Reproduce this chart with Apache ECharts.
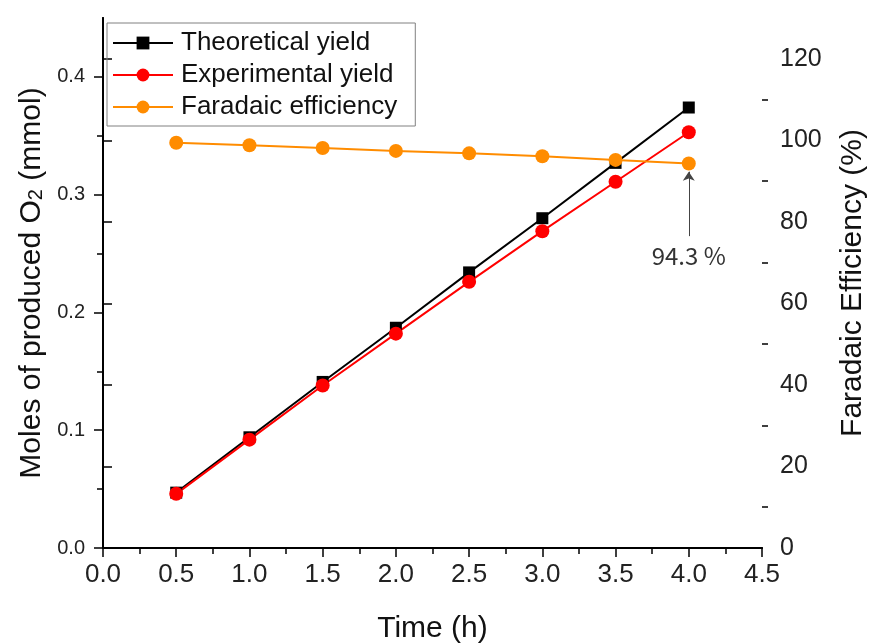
<!DOCTYPE html>
<html>
<head>
<meta charset="utf-8">
<script src="https://cdn.jsdelivr.net/npm/echarts@6/dist/echarts.min.js"></script>
<style>
  html, body { margin: 0; padding: 0; background: #fff; }
  #chart { width: 869px; height: 644px; }
</style>
</head>
<body>
<div id="chart"></div>
<script>
// data
var times = [0.5, 1.0, 1.5, 2.0, 2.5, 3.0, 3.5, 4.0];
var theoretical = [0.047, 0.094, 0.141, 0.187, 0.234, 0.280, 0.327, 0.374];
var experimental = [0.046, 0.092, 0.138, 0.182, 0.226, 0.269, 0.311, 0.353];
var faradaic = [99.4, 98.8, 98.1, 97.4, 96.8, 96.1, 95.2, 94.3];

var leftTicks = [0, 0.1, 0.2, 0.3, 0.4];
var leftMinor = [0.05, 0.15, 0.25, 0.35];
var rightTicks = [0, 20, 40, 60, 80, 100, 120];
var rightMinor = [10, 30, 50, 70, 90, 110];

// arrow annotation (x, from, to on the right axis)
var arrowX = 4.0, arrowFrom = 76.5, arrowTo = 92.3;

function pairs(xs, ys) {
    var out = [];
    for (var i = 0; i < xs.length; i++) out.push([xs[i], ys[i]]);
    return out;
}

var chart = echarts.init(document.getElementById('chart'));
var font = 'Liberation Sans, Arial, sans-serif';
var axisLine = { show: true, lineStyle: { color: '#000', width: 2 } };
var tickStyle = { color: '#000', width: 1.5 };

var option = {
    animation: false,
    textStyle: { fontFamily: font },
    grid: { left: 103, right: 107, top: 18, bottom: 96, outerBoundsMode: 'none' },
    legend: {
        orient: 'vertical',
        left: 107, top: 23,
        padding: [7, 18, 6, 5],
        itemGap: 6,
        itemWidth: 60, itemHeight: 16,
        borderColor: '#808080', borderWidth: 1,
        textStyle: { fontSize: 26, color: '#111', lineHeight: 26, fontFamily: font, padding: [0, 0, 0, 3] },
        data: ['Theoretical yield', 'Experimental yield', 'Faradaic efficiency']
    },
    xAxis: [{
        type: 'value', min: 0, max: 4.5, interval: 0.5,
        axisLine: axisLine,
        axisTick: { inside: false, length: 9, lineStyle: tickStyle },
        minorTick: { show: true, splitNumber: 2, length: 6, lineStyle: tickStyle },
        axisLabel: { fontSize: 26, color: '#222', margin: 14, formatter: function (v) { return v.toFixed(1); } },
        splitLine: { show: false },
        name: 'Time (h)', nameLocation: 'middle', nameGap: 66,
        nameTextStyle: { fontSize: 30, color: '#111' }
    }, {
        type: 'value', min: 0, max: 4.5, position: 'top',
        axisLine: axisLine,
        axisTick: { show: false }, axisLabel: { show: false }, splitLine: { show: false }
    }],
    yAxis: [{
        type: 'value', min: 0, max: 0.45, position: 'left',
        axisLine: axisLine,
        axisTick: { inside: false, customValues: leftTicks, length: 9, lineStyle: tickStyle },
        axisLabel: { customValues: leftTicks, fontSize: 20, color: '#222', margin: 18,
            formatter: function (v) { return v.toFixed(1); } },
        splitLine: { show: false },
        name: 'Moles of produced O{sub|2} (mmol)', nameLocation: 'middle', nameGap: 56, nameRotate: 90,
        nameTextStyle: { fontSize: 30, color: '#111',
            rich: { sub: { fontSize: 20, verticalAlign: 'bottom', color: '#111' } } }
    }, {
        type: 'value', min: 0, max: 130, position: 'right',
        axisLine: axisLine,
        axisTick: { inside: false, customValues: rightTicks, length: 9, lineStyle: tickStyle },
        axisLabel: { customValues: rightTicks, fontSize: 25, color: '#222', margin: 18 },
        splitLine: { show: false },
        name: 'Faradaic Efficiency (%)', nameLocation: 'middle', nameGap: 76, nameRotate: 90,
        nameTextStyle: { fontSize: 30, color: '#111' }
    }, {
        type: 'value', min: 0, max: 0.45, position: 'left',
        axisLine: { show: false },
        axisTick: { show: true, inside: false, customValues: leftMinor, length: 6, lineStyle: tickStyle },
        axisLabel: { show: false }, splitLine: { show: false }
    }, {
        type: 'value', min: 0, max: 130, position: 'right',
        axisLine: { show: false },
        axisTick: { show: true, inside: false, customValues: rightMinor, length: 6, lineStyle: tickStyle },
        axisLabel: { show: false }, splitLine: { show: false }
    }],
    series: [{
        name: 'Theoretical yield', type: 'line', yAxisIndex: 0,
        symbol: 'rect', symbolSize: 12,
        itemStyle: { color: '#000' }, lineStyle: { color: '#000', width: 2 },
        data: pairs(times, theoretical)
    }, {
        name: 'Experimental yield', type: 'line', yAxisIndex: 0,
        symbol: 'circle', symbolSize: 14,
        itemStyle: { color: '#ff0000' }, lineStyle: { color: '#ff0000', width: 2 },
        data: pairs(times, experimental)
    }, {
        name: 'Faradaic efficiency', type: 'line', yAxisIndex: 1,
        symbol: 'circle', symbolSize: 14,
        itemStyle: { color: '#ff8c00' }, lineStyle: { color: '#ff8c00', width: 2 },
        data: pairs(times, faradaic),
        markLine: {
            silent: true,
            symbol: ['none', 'arrow'], symbolSize: 9,
            lineStyle: { color: '#444', width: 1, type: 'solid' },
            label: { show: true, position: 'start', distance: 8, fontSize: 24, color: '#333',
                fontFamily: 'Noto Sans CJK KR, Noto Sans, sans-serif',
                formatter: faradaic[faradaic.length - 1] + ' %' },
            data: [[{ coord: [arrowX, arrowFrom] }, { coord: [arrowX, arrowTo] }]]
        }
    }]
};
chart.setOption(option);
</script>
</body>
</html>
